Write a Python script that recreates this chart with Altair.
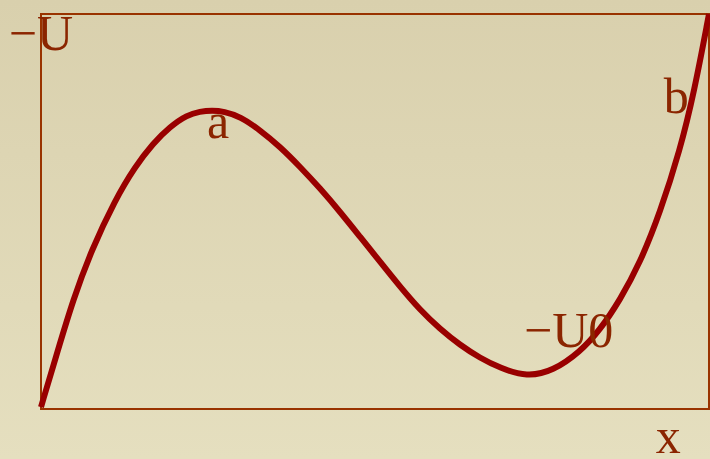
import altair as alt
import pandas as pd

# Potential energy curve U(x): a local maximum (a) followed by a well (-U0) and a steep rise (b)
xs = [0, 2.54, 4.79, 7.56, 11.08, 14.07, 16.77, 19.31, 21.86, 23.80, 25.60, 27.40,
      29.79, 32.78, 35.78, 38.77, 41.77, 44.76, 47.75, 50.75, 53.74, 56.74, 59.73,
      62.72, 65.72, 68.71, 72.75, 76.65, 80.69, 83.68, 86.68, 89.67, 92.66, 95.66,
      97.75, 100]
us = [0.5, 14.94, 27.59, 40.25, 52.91, 61.34, 67.26, 71.47, 74.43, 75.32, 75.57, 75.32,
      74.05, 70.63, 66.41, 61.34, 55.87, 49.95, 43.62, 37.29, 30.96, 25.06, 20.25,
      16.20, 12.91, 10.38, 8.10, 9.62, 14.43, 20.00, 27.59, 36.96, 49.62, 65.57,
      80.00, 100]

# Annotation texts and their anchor points (data units)
label_text = ["\u2212U", "a", "b", "\u2212U0", "x"]
label_x = [0.0, 26.5, 95.1, 79.0, 93.9]
label_y = [90.9, 68.6, 74.9, 15.7, -11.2]

curve = pd.DataFrame({"x": xs, "u": us})
labels = pd.DataFrame({"t": label_text, "x": label_x, "y": label_y})
frame = pd.DataFrame({"x0": [0], "x1": [100], "y0": [0], "y1": [100]})

W, H = 710, 459
xsc = alt.Scale(domain=[-6.138, 100.15], nice=False, zero=False)
ysc = alt.Scale(domain=[-12.658, 103.544], nice=False, zero=False)

bg = alt.Chart(pd.DataFrame({"k": [0]})).mark_rect(
    color=alt.Gradient(
        gradient="linear", x1=0, y1=0, x2=0, y2=1,
        stops=[alt.GradientStop(offset=0, color="#d9d0ad"),
               alt.GradientStop(offset=1, color="#e5dfbf")],
    )
).encode(x=alt.value(0), x2=alt.value(W), y=alt.value(0), y2=alt.value(H))

box = alt.Chart(frame).mark_rect(
    fill=None, stroke="#993300", strokeWidth=2
).encode(
    x=alt.X("x0:Q", scale=xsc, axis=None), x2="x1:Q",
    y=alt.Y("y0:Q", scale=ysc, axis=None), y2="y1:Q",
)

line = alt.Chart(curve).mark_line(
    color="#990000", strokeWidth=6, interpolate="basis"
).encode(
    x=alt.X("x:Q", scale=xsc, axis=None),
    y=alt.Y("u:Q", scale=ysc, axis=None),
)

text = alt.Chart(labels).mark_text(
    font="Liberation Serif", fontSize=50, color="#8b2500",
    align="center", baseline="alphabetic"
).encode(
    x=alt.X("x:Q", scale=xsc, axis=None),
    y=alt.Y("y:Q", scale=ysc, axis=None),
    text="t:N",
)

chart = alt.layer(bg, box, line, text).properties(
    width=W, height=H, autosize=alt.AutoSizeParams(type="none"), padding=0,
    background="#dfd8b6",
).configure_view(stroke=None)

chart.save("out.html", embed_options={"renderer": "svg", "actions": False})
